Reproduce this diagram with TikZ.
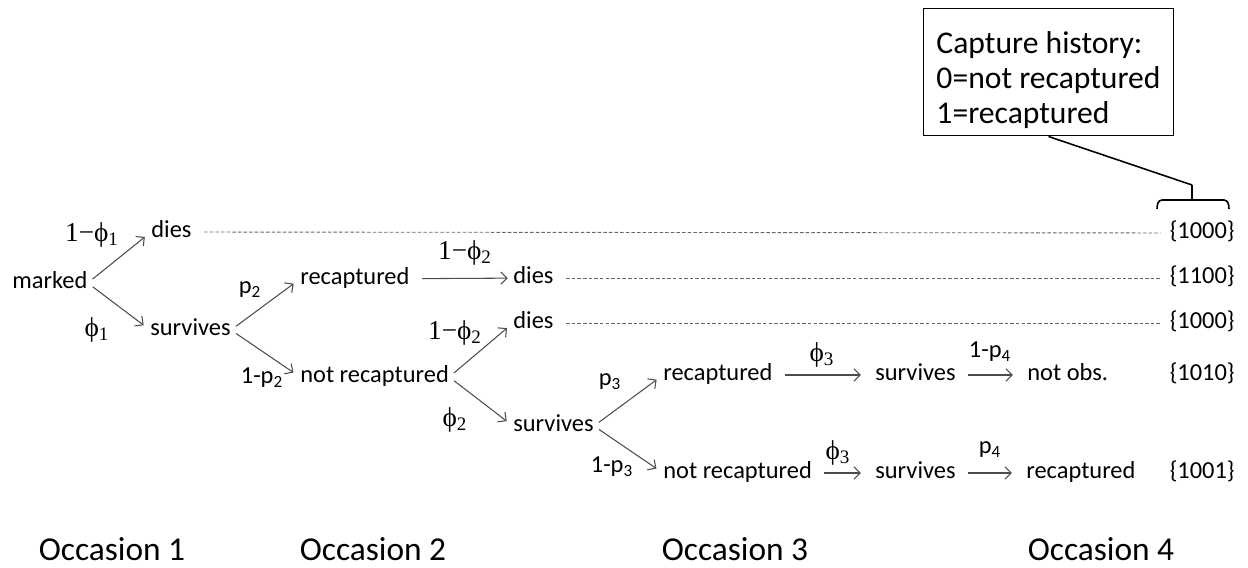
\documentclass[tikz,border=0pt]{standalone}
\usepackage{amsmath}
\usepackage{fontspec}
\setmainfont{Carlito}
\newfontfamily\phifont{Liberation Serif}
\usepackage{tikz}
\usetikzlibrary{arrows.meta,positioning}

\newcommand{\surv}[1]{{\phifont ϕ\textsubscript{#1}}}
\newcommand{\mort}[1]{{\phifont 1−ϕ\textsubscript{#1}}}

\tikzset{
  state/.style={inner sep=0pt, text height=9pt, text depth=3pt, font=\fontsize{13.9}{16}\selectfont},
  prob/.style={inner sep=0pt, font=\fontsize{13.9}{16}\selectfont},
  phi/.style={inner sep=0pt, font=\fontsize{15.5}{17}\selectfont},
  branch/.style={draw=black!70, line width=0.6pt, -{Straight Barb[length=3.5pt,width=7pt]}, shorten <=3.5pt, shorten >=4.5pt},
  move/.style={branch, shorten <=7pt, shorten >=8pt},
  dead/.style={draw=black!60, line width=0.5pt, dash pattern=on 2pt off 1.2pt, shorten <=7pt, shorten >=5pt},
  occ/.style={inner sep=0pt, font=\fontsize{19}{22}\selectfont},
}

\begin{document}
\begin{tikzpicture}[x=0.02cm, y=-0.02cm]
        \useasboundingbox (0,0) rectangle (1248,568);

        % Occasion 1
        \node[state, anchor=west] (marked) at (12,283) {marked};
        \node[state, anchor=west] (dies1) at (151,232) {dies};
        \node[state, anchor=west] (surv1) at (150,330) {survives};
        \draw[branch] (marked.east) -- (dies1.west);
        \draw[branch] (marked.east) -- (surv1.west);
        \node[phi] (q1) at (92,235) {\mort{1}};
        \node[phi] (f1) at (97,330) {\surv{1}};

        % Occasion 2
        \node[state, anchor=west] (rec2) at (300,279) {recaptured};
        \node[state, anchor=west] (nrec2) at (300,377) {not recaptured};
        \draw[branch] (surv1.east) -- (rec2.west);
        \draw[branch] (surv1.east) -- (nrec2.west);
        \node[prob] (p2) at (250,290) {p\textsubscript{2}};
        \node[prob] (np2) at (262,378) {1-p\textsubscript{2}};

        \node[state, anchor=west] (dies2) at (513,278) {dies};
        \draw[move, shorten >=3pt] (rec2) -- (dies2);
        \node[phi] (q2a) at (465,253) {\mort{2}};

        \node[state, anchor=west] (dies3) at (513,323) {dies};
        \node[state, anchor=west] (surv3) at (513,426) {survives};
        \draw[branch] (nrec2.east) -- (dies3.west);
        \draw[branch] (nrec2.east) -- (surv3.west);
        \node[phi] (q2b) at (455,333) {\mort{2}};
        \node[phi] (f2) at (455,420) {\surv{2}};

        % Occasion 3
        \node[state, anchor=west] (rec3) at (663,375) {recaptured};
        \node[state, anchor=west] (nrec3) at (663,473) {not recaptured};
        \draw[branch] (surv3.east) -- (rec3.west);
        \draw[branch] (surv3.east) -- (nrec3.west);
        \node[prob] (p3) at (610,382) {p\textsubscript{3}};
        \node[prob] (np3) at (612,467) {1-p\textsubscript{3}};

        % Occasion 4
        \node[state, anchor=west] (surv4a) at (875,375) {survives};
        \node[state, anchor=west] (nobs) at (1027,375) {not obs.};
        \draw[move] (rec3) -- (surv4a);
        \draw[move] (surv4a) -- (nobs);
        \node[phi] (f3a) at (822,355) {\surv{3}};
        \node[prob] (np4) at (990,352) {1-p\textsubscript{4}};

        \node[state, anchor=west] (surv4b) at (875,473) {survives};
        \node[state, anchor=west] (rec4) at (1026,473) {recaptured};
        \draw[move] (nrec3) -- (surv4b);
        \draw[move] (surv4b) -- (rec4);
        \node[phi] (f3b) at (838,453) {\surv{3}};
        \node[prob] (p4) at (990,450) {p\textsubscript{4}};

        % Capture histories
        \node[state, anchor=east] (h1) at (1235,233) {\{1000\}};
        \node[state, anchor=east] (h2) at (1235,278) {\{1100\}};
        \node[state, anchor=east] (h3) at (1235,323) {\{1000\}};
        \node[state, anchor=east] (h4) at (1235,375) {\{1010\}};
        \node[state, anchor=east] (h5) at (1235,473) {\{1001\}};
        \draw[dead] (dies1) -- (h1);
        \draw[dead] (dies2) -- (h2);
        \draw[dead] (dies3) -- (h3);

        % Legend and brace
        \node[draw, line width=0.8pt, align=left, minimum width=142.5pt,
              minimum height=72.6pt, font=\fontsize{18}{19.9}\selectfont] (legend) at (1048.5,72)
              {\rule{0pt}{21.5pt}Capture history:\\0=not recaptured\\1=recaptured};
        \draw[line width=0.9pt] (1157,209) to[out=90,in=180] (1162,200) -- (1224,200)
              to[out=0,in=90] (1229,209);
        \draw[line width=0.9pt] (1192,200) -- (1192,185) coordinate (tip);
        \draw[line width=0.9pt] (legend.south) -- (tip);

        % Occasions
        \node[occ] (o1) at (112,549) {Occasion 1};
        \node[occ] (o2) at (373,549) {Occasion 2};
        \node[occ] (o3) at (735,549) {Occasion 3};
        \node[occ] (o4) at (1101,549) {Occasion 4};

    \end{tikzpicture}
\end{document}
